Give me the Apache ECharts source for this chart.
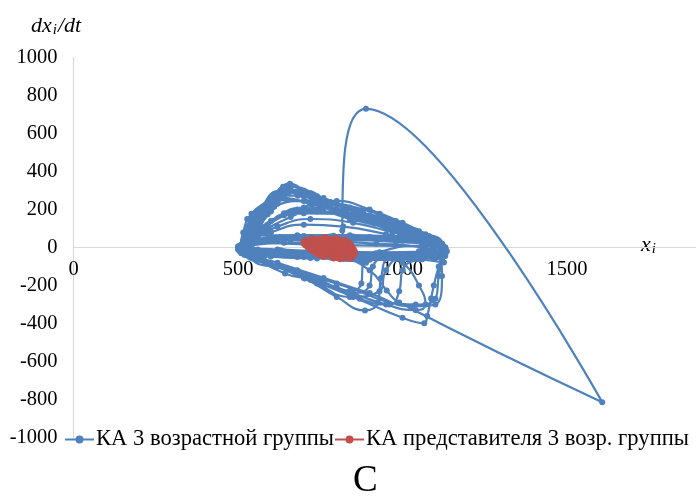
<!DOCTYPE html>
<html>
<head>
<meta charset="utf-8">
<script src="https://cdn.jsdelivr.net/npm/echarts@6/dist/echarts.min.js"></script>
<style>
html, body { margin: 0; padding: 0; background: #ffffff; }
#chart { width: 696px; height: 497px; }
</style>
</head>
<body>
<div id="chart"></div>
<script>
// Phase portrait: x_i against dx_i/dt
const xTickValues = [0, 500, 1000, 1500];
const yTickValues = [-1000, -800, -600, -400, -200, 0, 200, 400, 600, 800, 1000];

const seriesNames = ['КА 3 возрастной группы', 'КА представителя 3 возр. группы'];

// trajectory of the age group (x_i, dx_i/dt)
const groupTrajectory = [
  [520,5],[600,35],[720,55],[860,50],[1000,35],[1100,10],[1128,-25],[1060,-50],[920,-58],[780,-52],[640,-42],[540,-25],[500,0],
  [530,25],[640,48],[780,58],[930,45],[1060,25],[1120,-5],[1110,-45],[990,-55],[840,-48],[690,-38],[570,-28],[510,-8],
  [516,79],[541,178],[600,255],[658,336],[706,294],[796,231],[931,178],[1003,115],[1081,47],[1126,-10],
  [1126,-79],[1040,-60],[900,-50],[760,-45],[620,-30],[530,-10],
  [535,60],[571,142],[620,230],[637,320],[690,285],[780,215],[877,152],[990,80],[1090,20],[1130,-30],
  [1100,-55],[960,-50],[810,-42],[660,-35],[550,-20],
  [520,-35],[600,-90],[700,-160],[800,-260],[886,-331],[925,-290],[935,-160],[960,-50],[1050,-20],
  [1120,20],[1040,45],[900,55],[760,50],[620,35],[520,15],
  [546,168],[528,150],[555,120],[590,175],[616,273],[682,273],[760,225],[916,126],[1010,60],[1100,5],
  [1120,-40],[1000,-55],[850,-50],[700,-45],[560,-30],[505,-5],
  [540,-45],[643,-137],[703,-163],[841,-226],[875,-190],[880,-80],[920,-30],
  [1060,10],[1125,-20],
  [1110,-100],[1095,-200],[1087,-268],[1075,-360],[1066,-399],[1000,-370],[850,-260],[720,-170],[600,-90],[520,-40],
  [515,20],[620,45],[780,55],[950,48],[1080,28],[1125,0],
  [1110,-35],[980,-45],[820,-40],[670,-30],[540,-15],
  [560,110],[600,200],[660,300],[740,255],[850,195],[961,147],[1060,70],[1115,15],
  [1100,-25],[950,-35],[790,-30],[640,-20],[525,0],
  [510,15],[540,150],[610,280],[650,325],[720,285],[840,210],[980,120],[1090,40],[1125,-10],
  [1095,-40],[900,-45],[700,-35],[540,-15],
  [525,40],[560,170],[630,300],[700,300],[780,240],[900,170],[1040,80],[1120,10],
  [1110,-30],[920,-40],[720,-30],[560,-10],
  [540,70],[590,200],[660,320],[740,270],[860,190],[980,130],[1080,60],[1130,0],
  [1090,-50],[880,-55],[660,-45],[520,-20],
  [510,0],[560,90],[640,170],[740,190],[860,150],[980,95],[1090,35],[1125,-15],
  [1080,-45],[880,-48],[680,-40],[530,-15],
  [700,-40],[889,-80],[817,90],[889,730],[1607,-814],[990,-290],[952,-226],[900,-120],[820,-60],[700,-45],[560,-30],
  [510,10],[600,40],[740,52],[880,50],[1020,38],[1110,15],[1128,-20],[1080,-45],[940,-52],[800,-48],[660,-40],[545,-28],
  [550,80],[580,180],[620,240],[650,290],[700,270],[800,205],[900,150],[1020,85],[1100,30],
  [1120,-10],[1050,-45],[900,-50],[740,-40],[590,-30],[510,-10],
  [530,50],[600,140],[700,210],[820,200],[940,150],[1050,85],[1120,20],
  [1110,-40],[900,-45],[690,-35],[520,-5],
  [540,-50],[650,-110],[760,-180],[850,-240],[900,-200],[910,-100],[950,-50],
  [1000,-80],[1050,-200],[1070,-300],[1040,-330],[950,-300],[800,-210],[660,-120],[540,-50],
  [530,90],[580,220],[690,305],[760,260],[880,185],[1000,110],[1100,35],
  [1120,-20],[950,-40],[750,-35],[580,-25],[505,0],
  [560,70],[660,160],[780,230],[880,200],[980,140],[1070,70],[1130,0],
  [1100,-50],[920,-55],[720,-45],[540,-25],
  [560,-60],[680,-120],[800,-190],[1040,-300],[1100,-270],[1110,-150],[1120,-60],
  [1060,0],[920,20],[780,30],[640,25],[530,10],
  [545,120],[590,230],[640,310],[720,240],[830,170],[950,100],[1060,45],[1120,0],
  [1080,-30],[930,-40],[780,-35],[620,-25],[500,5],
  [540,40],[620,110],[720,150],[850,130],[970,80],[1080,30],[1125,-25],
  [1060,-52],[850,-50],[650,-40],[510,-10],
  [520,60],[565,190],[640,260],[720,230],[850,160],[1000,90],[1110,25],
  [1128,-35],[960,-48],[760,-42],[600,-30],[515,-5],
  [505,10],[580,30],[700,45],[850,50],[1000,40],[1100,20],[1130,-10],[1110,-50],[980,-60],[830,-60],[680,-50],[560,-40],[505,-15],
  [550,100],[610,215],[700,245],[800,190],[920,130],[1050,65],[1125,5],
  [1105,-45],[900,-52],[700,-45],[560,-30],
  [580,-70],[720,-150],[870,-270],[960,-300],[990,-230],[1000,-120],[1050,-60],
  [1130,-35],[1060,-62],[900,-65],[740,-58],[600,-48],[510,-30],
  [580,100],[680,200],[800,245],[900,200],[1000,130],[1090,50],[1120,-5],
  [1090,-40],[880,-45],[690,-38],[525,-18],
  [540,30],[600,190],[680,290],[760,245],[870,180],[960,130],[1040,90],[1110,30],[1125,-20],
  [1080,-42],[870,-46],[670,-40],[530,-12],
  [560,150],[650,250],[760,210],[880,160],[1000,100],[1100,45],[1130,-5],
  [1090,-35],[890,-40],[690,-33],[520,0],
  [590,120],[700,180],[830,175],[950,120],[1060,60],[1120,5],
  [515,35],[630,55],[790,62],[950,55],[1080,35],[1130,-5],[1080,-20],[930,-25],[770,-20],[620,-10],[510,5],
  [560,60],[640,180],[720,200],[840,150],[980,90],[1100,30],
  [1120,-25],[980,-40],[780,-38],[600,-28],[520,-10],
  [520,20],[600,80],[700,120],[820,110],[950,70],[1070,25],[1125,-30],
  [1060,-50],[880,-55],[700,-50],[560,-45],[620,-100],[740,-190],[840,-260],[930,-230],[950,-120],[1000,-50],
  [1100,-40],[1120,-150],[1100,-300],[1030,-310],[900,-240],[760,-160],[620,-80],[530,-30],
  [525,50],[680,65],[840,65],[990,55],[1100,40],[1135,-20],[1040,-35],[880,-38],[720,-30],[570,-20],[500,-10],
  [560,45],[700,60],[850,58],[1000,45],[1110,25],[1130,-45],[1020,-60],[870,-62],[720,-55],[580,-45],[505,-20],
  [520,30],[660,40],[820,40],[980,30],[1100,0],[1090,-30],[940,-30],[780,-25],[630,-15],[530,0]
];

// trajectory of the group representative
const representativeTrajectory = [
  [725,50],[765,55],[800,50],[825,40],[780,42],[705,40],[700,30],[770,33],[835,30],[840,20],[770,22],[700,20],
  [705,10],[775,12],[845,10],[848,0],[780,2],[712,0],[720,-10],[785,-8],[852,-10],[855,-20],[790,-18],[728,-20],
  [735,-30],[795,-28],[856,-30],[853,-40],[800,-38],[745,-40],[760,-50],[805,-48],[848,-50],[840,-60],[810,-62],[790,-58],
  [760,-30],[730,0],[740,35],[790,45],[830,10],[845,-35],[800,-55],[750,-25],[720,15],[760,40],[810,25],[835,-20],[780,-40]
];

const SERIF = '"Liberation Serif", "Times New Roman", serif';
const BLUE = '#4F81BD';
const RED = '#C0504D';

const chart = echarts.init(document.getElementById('chart'), null, { renderer: 'canvas' });

chart.setOption({
  animation: false,
  backgroundColor: '#ffffff',
  grid: { left: 73.5, top: 57.5, width: 658, height: 380, containLabel: false, outerBoundsMode: 'none' },
  title: [{
    text: '{v|dx}{s|i}{v|/dt}',
    left: 26, top: 10,
    textStyle: {
      rich: {
        v: { fontFamily: SERIF, fontStyle: 'italic', fontWeight: 'normal', fontSize: 22, color: '#000' },
        s: { fontFamily: SERIF, fontStyle: 'italic', fontWeight: 'normal', fontSize: 15, color: '#000', verticalAlign: 'bottom', padding: [8, 1, 0, 1] }
      }
    }
  }],
  legend: {
    left: 64, top: 428, width: 670, padding: 0,
    itemWidth: 29, itemHeight: 10, itemGap: 0,
    data: seriesNames,
    textStyle: { fontFamily: SERIF, fontSize: 22.6, color: '#000', padding: [0, 0, 0, -3] }
  },
  xAxis: {
    type: 'value', min: 0, max: 2000, interval: 500,
    position: 'bottom', offset: -190,
    axisLine: { show: true, onZero: false, lineStyle: { color: '#d9d9d9', width: 1.2 } },
    axisTick: { show: false },
    splitLine: { show: false },
    axisLabel: {
      margin: 12,
      fontFamily: SERIF, fontSize: 20.5, color: '#000',
      formatter: v => (xTickValues.indexOf(v) >= 0 ? String(v) : '')
    }
  },
  yAxis: {
    type: 'value', min: -1000, max: 1000, interval: 200,
    axisLine: { show: true, onZero: false, lineStyle: { color: '#d9d9d9', width: 1.2 } },
    axisTick: { show: false },
    splitLine: { show: false },
    axisLabel: {
      margin: 16,
      fontFamily: SERIF, fontSize: 20.5, color: '#000',
      formatter: v => (yTickValues.indexOf(v) >= 0 ? String(v) : '')
    }
  },
  graphic: [
    {
      type: 'text', left: 641, top: 234,
      style: {
        text: '{v|x}{s|i}',
        rich: {
          v: { fontFamily: SERIF, fontStyle: 'italic', fontSize: 22, fill: '#000' },
          s: { fontFamily: SERIF, fontStyle: 'italic', fontSize: 15, fill: '#000', verticalAlign: 'bottom', padding: [9, 0, 0, 1] }
        }
      }
    },
    {
      type: 'text', left: 353, top: 463,
      style: { text: 'С', fontFamily: SERIF, fontSize: 37, fill: '#000' }
    }
  ],
  series: [
    {
      name: seriesNames[0],
      type: 'line',
      data: groupTrajectory,
      smooth: 0.5,
      symbol: 'circle', symbolSize: 6, showSymbol: true,
      lineStyle: { color: BLUE, width: 2.2 },
      itemStyle: { color: BLUE },
      z: 2
    },
    {
      name: seriesNames[1],
      type: 'line',
      data: representativeTrajectory,
      smooth: 0.3,
      symbol: 'circle', symbolSize: 6, showSymbol: true,
      lineStyle: { color: RED, width: 2.5 },
      itemStyle: { color: RED },
      z: 3
    }
  ]
});
</script>
</body>
</html>
